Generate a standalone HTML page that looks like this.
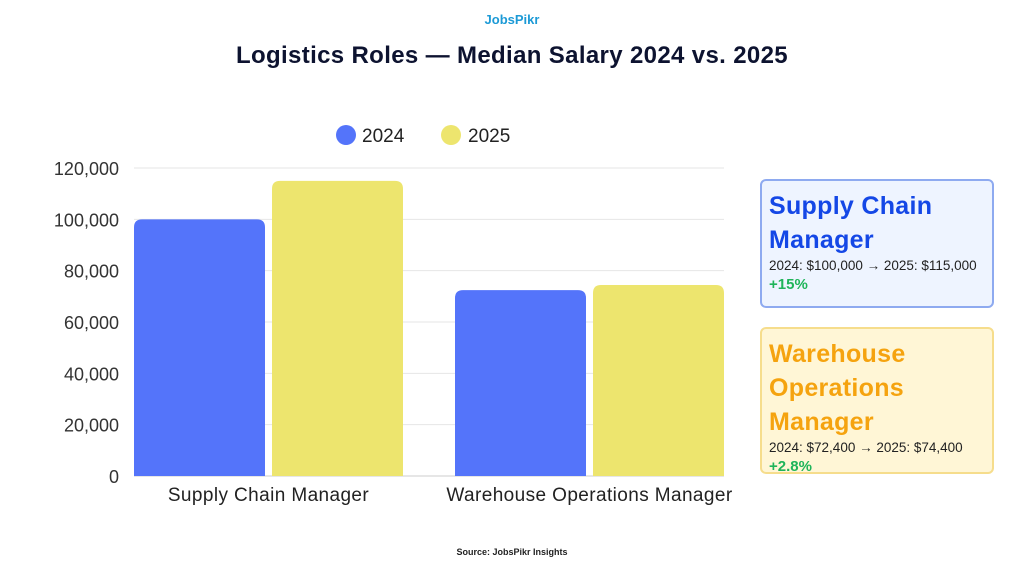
<!DOCTYPE html>
<html><head><meta charset="utf-8"><style>
body{margin:0;background:#fff;font-family:"Liberation Sans",sans-serif;}
#wrap{position:relative;width:1024px;height:576px;overflow:hidden;background:#fff;}
.abs{position:absolute;}
.box{position:absolute;left:760px;width:234px;border-radius:6px;padding:8px 0 0 7px;box-sizing:border-box;}
.box h3{margin:0;font-size:25px;line-height:34px;font-weight:bold;letter-spacing:0.3px;}
.box p{margin:0;font-size:13.5px;color:#222;line-height:18px;}
.box .pct{font-size:15px;font-weight:bold;color:#1fb45a;line-height:20px;}
</style></head><body>
<div id="wrap">
<div class="abs" style="left:0;width:1024px;top:12px;text-align:center;font-size:13px;font-weight:bold;color:#1c9ad6;">JobsPikr</div>
<div class="abs" style="left:0;width:1024px;top:42px;text-align:center;font-size:24px;font-weight:bold;color:#0d1330;letter-spacing:0.35px;">Logistics Roles — Median Salary 2024 vs. 2025</div>
<svg class="abs" style="left:0;top:0" width="1024" height="576">
<g id="legend">
<circle cx="346" cy="135" r="10" fill="#5474fa"/>
<text x="362" y="142" font-size="19" fill="#222" font-family="Liberation Sans">2024</text>
<circle cx="451" cy="135" r="10" fill="#ede56e"/>
<text x="468" y="142" font-size="19" fill="#222" font-family="Liberation Sans">2025</text>
</g>
<g id="grid"></g><g id="bars"></g><g id="labels"></g>
</svg>
<div class="box" style="top:179px;height:129px;background:#eef4ff;border:2px solid #8eaaf0;">
<h3 style="color:#1447e6">Supply Chain<br>Manager</h3>
<p>2024: $100,000 → 2025: $115,000</p>
<div class="pct">+15%</div></div>
<div class="box" style="top:327px;height:147px;background:#fff6d6;border:2px solid #f6dd8c;">
<h3 style="color:#f5a30f">Warehouse<br>Operations<br>Manager</h3>
<p>2024: $72,400 → 2025: $74,400</p>
<div class="pct">+2.8%</div></div>
<div class="abs" style="left:0;width:1024px;top:547px;text-align:center;font-size:9px;font-weight:bold;color:#222;">Source: JobsPikr Insights</div>
</div>
<script>
const categories=["Supply Chain Manager","Warehouse Operations Manager"];
const values2024=[100000,72400];
const values2025=[115000,74400];
const ticks=[0,20000,40000,60000,80000,100000,120000];
const NS="http://www.w3.org/2000/svg";
const y0=476,y1=168,yMax=120000,xL=134,xR=724;
const y=v=>y0-(v/yMax)*(y0-y1);
const grid=document.getElementById('grid'),bars=document.getElementById('bars'),labels=document.getElementById('labels');
function mk(t,a){const e=document.createElementNS(NS,t);for(const k in a)e.setAttribute(k,a[k]);return e;}
ticks.forEach(t=>{
 const l=mk('line',{x1:xL,x2:xR,y1:y(t),y2:y(t),stroke:t===0?'#ccc':'#e6e6e6','stroke-width':1});
 
 
 grid.appendChild(l);
 const tx=mk('text',{x:119,y:y(t)+7,'text-anchor':'end','font-size':18,fill:'#333','font-family':'Liberation Sans'});
 tx.textContent=t.toLocaleString('en-US');
 
 
 labels.appendChild(tx);
});
const barW=131, gap=7;
const starts=[134,455];
function bar(x,v,color,name){
 const top=y(v),r=8;
 const p=mk('path',{d:`M${x},${y0} V${top+r} Q${x},${top} ${x+r},${top} H${x+barW-r} Q${x+barW},${top} ${x+barW},${top+r} V${y0} Z`,fill:color});
 
 
 bars.appendChild(p);
}
categories.forEach((c,i)=>{
 const start=starts[i];
 bar(start,values2024[i],'#5474fa','bar-2024');
 bar(start+barW+gap,values2025[i],'#ede56e','bar-2025');
 const tx=mk('text',{x:start+barW+gap/2,y:501,'text-anchor':'middle','font-size':19,fill:'#222','font-family':'Liberation Sans','letter-spacing':0.4});
 tx.textContent=c;
 
 
 labels.appendChild(tx);
});
</script>
</body></html>
